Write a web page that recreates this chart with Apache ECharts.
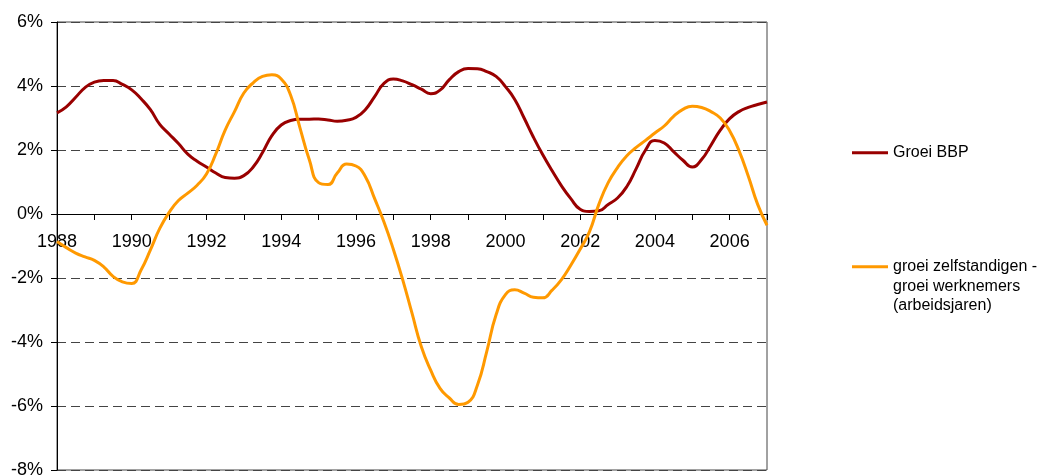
<!DOCTYPE html>
<html>
<head>
<meta charset="utf-8">
<script src="https://cdn.jsdelivr.net/npm/echarts@6/dist/echarts.min.js"></script>
<style>
  html, body { margin: 0; padding: 0; background: #fff; }
  #chart { width: 1041px; height: 475px; }
</style>
</head>
<body>
<div id="chart"></div>
<script>
'use strict';
/* Groei BBP vs groei zelfstandigen - werknemers, kwartaaldata 1988-2007 */

var years = [];
for (var y = 1988; y <= 2007; y++) { years.push(y); }

// quarterly categories 1988-K1 .. 2007-K1
var quarters = [];
years.forEach(function(yr) {
  for (var q = 1; q <= 4; q++) {
    if (yr === 2007 && q > 1) { break; }
    quarters.push(yr + '-K' + q);
  }
});

var yTicks = [-8, -6, -4, -2, 0, 2, 4, 6];

var groeiBBP = [
  3.16, 3.35, 3.65, 3.95, 4.12, 4.17, 4.17, 4.05,
  3.88, 3.60, 3.26, 2.80, 2.50, 2.20, 1.87, 1.65,
  1.47, 1.28, 1.14, 1.12, 1.20, 1.47, 1.92, 2.45,
  2.78, 2.92, 2.96, 2.96, 2.97, 2.94, 2.90, 2.93,
  3.02, 3.26, 3.67, 4.08, 4.22, 4.16, 4.04, 3.90,
  3.76, 3.87, 4.20, 4.45, 4.55, 4.54, 4.45, 4.30,
  3.98, 3.58, 3.00, 2.40, 1.85, 1.35, 0.88, 0.48,
  0.15, 0.08, 0.10, 0.30, 0.50, 0.86, 1.42, 2.00,
  2.30, 2.22, 1.95, 1.68, 1.47, 1.70, 2.15, 2.62,
  2.98, 3.20, 3.33, 3.42, 3.50
];

var groeiVerschil = [
  -0.86, -1.05, -1.22, -1.34, -1.45, -1.65, -1.95, -2.12,
  -2.17, -1.75, -1.12, -0.45, 0.05, 0.42, 0.65, 0.90,
  1.25, 1.88, 2.62, 3.20, 3.78, 4.10, 4.30, 4.35,
  4.22, 3.72, 2.70, 1.70, 0.98, 0.92, 1.28, 1.56,
  1.50, 1.17, 0.48, -0.25, -1.10, -2.05, -3.10, -4.15,
  -4.88, -5.45, -5.75, -5.95, -5.88, -5.35, -4.30, -3.15,
  -2.52, -2.37, -2.47, -2.60, -2.62, -2.38, -2.05, -1.60,
  -1.10, -0.55, 0.30, 0.98, 1.45, 1.82, 2.08, 2.30,
  2.53, 2.75, 3.05, 3.27, 3.37, 3.33, 3.20, 3.00,
  2.60, 1.98, 1.18, 0.30, -0.35
];

var nameBBP = 'Groei BBP';
var nameVerschil = 'groei zelfstandigen -\ngroei werknemers\n(arbeidsjaren)';

var FONT = '"Liberation Sans", Arial, sans-serif';

var chart = echarts.init(document.getElementById('chart'));

var legendText = {
  fontSize: 16,
  lineHeight: 19.5,
  color: '#000',
  fontFamily: FONT
};

var option = {
  backgroundColor: '#fff',
  animation: false,
  textStyle: { fontFamily: FONT },
  color: ['#990000', '#FF9900'],
  grid: {
    left: 57,
    right: 274,
    top: 22,
    bottom: 5,
    containLabel: false,
    outerBoundsMode: 'none',
    show: true,
    borderColor: '#444',
    borderWidth: 1
  },
  legend: [{
    data: [nameBBP],
    left: 852,
    top: 143,
    padding: 0,
    icon: 'rect',
    itemWidth: 36,
    itemHeight: 3,
    textStyle: legendText
  }, {
    data: [nameVerschil],
    left: 852,
    top: 218,
    padding: 0,
    icon: 'rect',
    itemWidth: 36,
    itemHeight: 3,
    textStyle: legendText,
    // keep the marker level with the first line of the label
    formatter: function(n) { return '\n\n' + n; }
  }],
  xAxis: {
    type: 'category',
    data: quarters,
    boundaryGap: false,
    position: 'bottom',
    // axis drawn on the 0% line (grid height 448px, 0% sits 256px above the bottom)
    offset: -256,
    axisLine: { onZero: false, lineStyle: { color: '#000', width: 1 } },
    axisTick: { interval: 3, length: 6, lineStyle: { color: '#000' } },
    axisLabel: {
      interval: 7,
      margin: 19,
      fontSize: 18,
      color: '#000',
      fontFamily: FONT,
      formatter: function(v) { return v.slice(0, 4); }
    },
    splitLine: { show: false }
  },
  yAxis: {
    type: 'value',
    min: yTicks[0],
    max: yTicks[yTicks.length - 1],
    interval: 2,
    axisLine: { show: true, lineStyle: { color: '#000', width: 1 } },
    axisTick: { show: true, length: 6, lineStyle: { color: '#000' } },
    axisLabel: {
      margin: 14,
      fontSize: 18,
      color: '#000',
      fontFamily: FONT,
      formatter: '{value}%'
    },
    splitLine: {
      show: true,
      lineStyle: { color: '#444', width: 1, type: [9, 5] }
    }
  },
  series: [{
    name: nameBBP,
    type: 'line',
    data: groeiBBP,
    symbol: 'none',
    smooth: 0.5,
    lineStyle: { width: 3 },
    z: 3
  }, {
    name: nameVerschil,
    type: 'line',
    data: groeiVerschil,
    symbol: 'none',
    smooth: 0.5,
    lineStyle: { width: 3 },
    z: 4
  }]
};

chart.setOption(option);
</script>
</body>
</html>
